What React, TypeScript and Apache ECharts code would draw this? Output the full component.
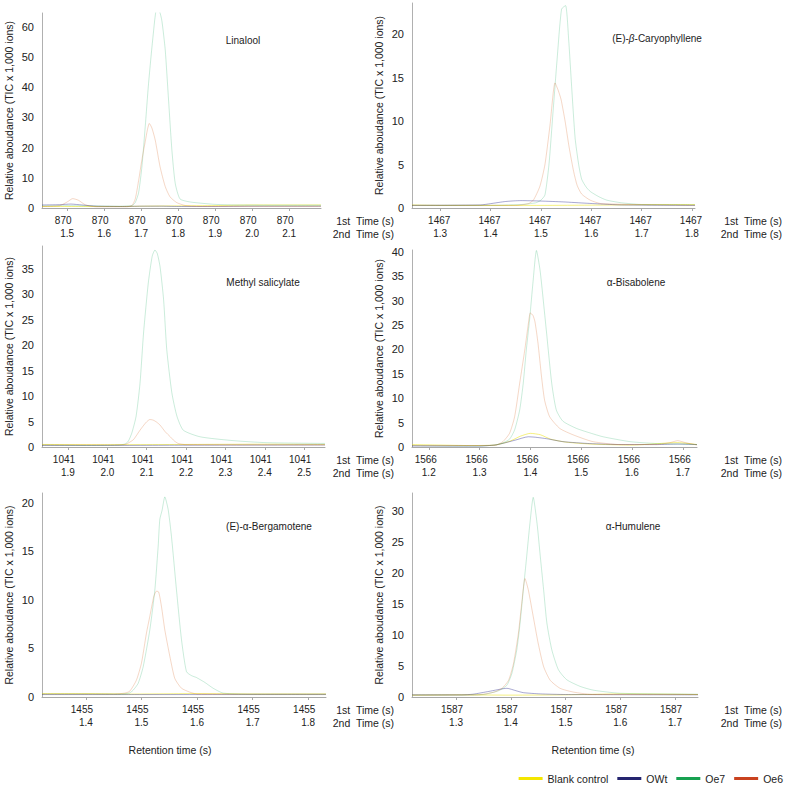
import React, { useEffect, useRef } from "react";
import * as echarts from "echarts";

// ---------- data ----------
const seriesNames = ["Blank control", "OWt", "Oe7", "Oe6"];
const legendColors = ["#f4e600", "#25256f", "#17a150", "#c9421f"];
const lineColors = ["rgba(235,225,0,0.5)", "rgba(40,40,140,0.4)", "rgba(20,170,90,0.22)", "rgba(215,100,30,0.25)"];

const compounds = ["Linalool", "(E)-{i|β}-Caryophyllene", "Methyl salicylate", "α-Bisabolene", "(E)-α-Bergamotene", "α-Humulene"];
const firstTimes = ["870", "1467", "1041", "1566", "1455", "1587"];

const ticks1 = [1.5, 1.6, 1.7, 1.8, 1.9, 2.0, 2.1];
const ticks2 = [1.3, 1.4, 1.5, 1.6, 1.7, 1.8];
const ticks3 = [1.9, 2.0, 2.1, 2.2, 2.3, 2.4, 2.5];
const ticks4 = [1.2, 1.3, 1.4, 1.5, 1.6, 1.7];
const ticks5 = [1.4, 1.5, 1.6, 1.7, 1.8];
const ticks6 = [1.3, 1.4, 1.5, 1.6, 1.7];

const xRanges = [[1.432, 2.186], [1.244, 1.806], [1.834, 2.553], [1.167, 1.728], [1.321, 1.832], [1.2196, 1.742]];
const yMax = [64.6, 23.6, 39.5, 40.4, 21.0, 32.9];
const yStep = [10, 5, 5, 5, 5, 5];

// Linalool
const blank1 = [[1.432, 0.5], [1.55, 0.5], [1.65, 0.5], [1.70, 0.6], [1.8, 0.7], [1.9, 0.8], [2.0, 1.0], [2.186, 1.0]];
const owt1 = [[1.432, 1.0], [1.48, 1.1], [1.51, 1.3], [1.54, 1.0], [1.58, 0.6], [1.65, 0.5], [1.70, 0.6], [1.75, 0.6], [1.80, 0.5], [1.9, 0.5], [2.0, 0.6], [2.186, 0.6]];
const oe7_1 = [[1.432, 0.7], [1.50, 0.8], [1.56, 0.7], [1.64, 0.6], [1.675, 0.8], [1.684, 1.8], [1.693, 5], [1.702, 13.7], [1.711, 27], [1.720, 41.3], [1.733, 58], [1.742, 66], [1.750, 65], [1.756, 62], [1.765, 52.4], [1.774, 35.8], [1.783, 19.2], [1.792, 8.2], [1.805, 3], [1.832, 2], [1.87, 1.5], [1.90, 1.2], [1.95, 1.0], [2.05, 0.9], [2.186, 0.9]];
const oe6_1 = [[1.432, 0.5], [1.48, 0.8], [1.50, 2], [1.515, 3.1], [1.53, 2.6], [1.55, 1], [1.58, 0.4], [1.66, 0.4], [1.675, 0.8], [1.684, 3], [1.693, 9], [1.702, 16], [1.711, 22], [1.717, 26], [1.722, 28], [1.729, 26.5], [1.738, 22.5], [1.751, 13.7], [1.765, 7.1], [1.778, 3.7], [1.796, 1.8], [1.82, 0.8], [1.86, 0.5], [2.186, 0.5]];

// (E)-beta-Caryophyllene
const blank2 = [[1.244, 0.35], [1.30, 0.3], [1.40, 0.3], [1.50, 0.3], [1.65, 0.35], [1.75, 0.4], [1.806, 0.4]];
const owt2 = [[1.244, 0.3], [1.38, 0.35], [1.40, 0.5], [1.43, 0.75], [1.46, 0.85], [1.50, 0.8], [1.545, 0.7], [1.59, 0.55], [1.624, 0.45], [1.66, 0.35], [1.806, 0.3]];
const oe7_2 = [[1.244, 0.3], [1.40, 0.3], [1.46, 0.4], [1.49, 0.6], [1.500, 0.9], [1.508, 1.5], [1.516, 5], [1.524, 11], [1.532, 17], [1.541, 22.9], [1.549, 23.3], [1.555, 19.5], [1.561, 14], [1.568, 8], [1.575, 5], [1.581, 3.3], [1.59, 2.4], [1.598, 1.9], [1.615, 1.3], [1.631, 0.9], [1.66, 0.6], [1.70, 0.4], [1.806, 0.35]];
const oe6_2 = [[1.244, 0.3], [1.45, 0.3], [1.475, 0.5], [1.485, 0.9], [1.498, 2.5], [1.508, 5], [1.518, 9.5], [1.528, 14.4], [1.534, 13.6], [1.540, 12.5], [1.548, 10], [1.556, 7], [1.565, 4.2], [1.572, 2.6], [1.581, 1.6], [1.598, 0.9], [1.62, 0.5], [1.806, 0.3]];

// Methyl salicylate
const blank3 = [[1.834, 0.5], [2.0, 0.45], [2.2, 0.5], [2.4, 0.55], [2.553, 0.5]];
const owt3 = [[1.834, 0.3], [2.0, 0.3], [2.2, 0.35], [2.553, 0.4]];
const oe7_3 = [[1.834, 0.4], [1.95, 0.3], [2.03, 0.4], [2.045, 0.6], [2.053, 1.1], [2.062, 2.7], [2.073, 6], [2.083, 12.5], [2.092, 22.4], [2.104, 32.2], [2.114, 37.5], [2.121, 38.7], [2.127, 38], [2.134, 35.4], [2.143, 28.9], [2.151, 19.1], [2.164, 10.6], [2.177, 6], [2.193, 3.3], [2.236, 2.0], [2.32, 1.25], [2.405, 0.85], [2.553, 0.7]];
const oe6_3 = [[1.834, 0.4], [2.0, 0.4], [2.045, 0.5], [2.058, 1.0], [2.067, 1.5], [2.083, 3.3], [2.098, 4.8], [2.108, 5.4], [2.116, 5.3], [2.125, 4.9], [2.134, 4.3], [2.147, 3.0], [2.160, 2.0], [2.170, 1.2], [2.18, 0.7], [2.20, 0.45], [2.553, 0.4]];

// alpha-Bisabolene
const blank4 = [[1.167, 0.5], [1.22, 0.4], [1.28, 0.3], [1.33, 0.4], [1.36, 1.2], [1.38, 2.2], [1.40, 2.8], [1.42, 2.5], [1.44, 1.6], [1.47, 1.0], [1.52, 0.6], [1.6, 0.4], [1.69, 0.9], [1.728, 0.5]];
const owt4 = [[1.167, 0.2], [1.30, 0.2], [1.33, 0.4], [1.346, 0.75], [1.37, 1.4], [1.396, 2.1], [1.41, 2.0], [1.432, 1.7], [1.464, 1.1], [1.517, 0.7], [1.58, 0.5], [1.65, 0.5], [1.69, 0.6], [1.728, 0.5]];
const oe7_4 = [[1.167, 0.3], [1.25, 0.2], [1.30, 0.2], [1.33, 0.4], [1.345, 0.8], [1.359, 1.6], [1.369, 3.5], [1.379, 7.6], [1.386, 13.1], [1.392, 19.9], [1.399, 26.7], [1.405, 33.6], [1.412, 40.3], [1.419, 36.3], [1.425, 30.5], [1.432, 23.3], [1.442, 13.1], [1.451, 7.6], [1.464, 5.3], [1.491, 3.8], [1.52, 2.8], [1.543, 2.1], [1.596, 1.1], [1.65, 0.7], [1.70, 0.6], [1.728, 0.5]];
const oe6_4 = [[1.167, 0.3], [1.30, 0.3], [1.333, 0.4], [1.346, 1.1], [1.359, 2.8], [1.369, 6.2], [1.379, 13.1], [1.389, 19.9], [1.395, 24.5], [1.400, 27.5], [1.405, 27], [1.409, 25.7], [1.415, 21.3], [1.422, 14.4], [1.428, 9.6], [1.438, 6.2], [1.458, 3.8], [1.484, 2.5], [1.523, 1.1], [1.576, 0.5], [1.65, 0.5], [1.675, 0.9], [1.69, 1.3], [1.705, 0.9], [1.728, 0.4]];

// (E)-alpha-Bergamotene
const blank5 = [[1.321, 0.35], [1.40, 0.35], [1.48, 0.3], [1.60, 0.35], [1.70, 0.3], [1.832, 0.3]];
const owt5 = [[1.321, 0.25], [1.5, 0.25], [1.65, 0.25], [1.832, 0.25]];
const oe7_5 = [[1.321, 0.3], [1.40, 0.3], [1.46, 0.3], [1.478, 0.4], [1.485, 0.7], [1.494, 1.4], [1.503, 3.1], [1.515, 6.9], [1.524, 11.0], [1.530, 15.5], [1.533, 18.3], [1.537, 19.2], [1.542, 20.6], [1.548, 19.3], [1.554, 16.5], [1.563, 11.0], [1.572, 5.9], [1.581, 2.6], [1.590, 2.2], [1.599, 2.0], [1.614, 1.5], [1.629, 0.9], [1.647, 0.4], [1.70, 0.3], [1.832, 0.3]];
const oe6_5 = [[1.321, 0.3], [1.45, 0.3], [1.470, 0.4], [1.479, 0.6], [1.491, 1.75], [1.500, 3.5], [1.509, 6.6], [1.515, 8.3], [1.522, 10.3], [1.527, 10.9], [1.531, 10.8], [1.536, 9.3], [1.542, 6.9], [1.551, 4.2], [1.560, 1.9], [1.572, 0.9], [1.587, 0.5], [1.60, 0.3], [1.832, 0.3]];

// alpha-Humulene
const blank6 = [[1.22, 0.3], [1.30, 0.35], [1.40, 0.3], [1.50, 0.35], [1.60, 0.5], [1.70, 0.45], [1.742, 0.4]];
const owt6 = [[1.22, 0.35], [1.31, 0.35], [1.331, 0.45], [1.36, 0.9], [1.393, 1.4], [1.41, 1.0], [1.423, 0.7], [1.454, 0.5], [1.5, 0.4], [1.742, 0.35]];
const oe7_6 = [[1.22, 0.3], [1.30, 0.3], [1.35, 0.4], [1.370, 0.8], [1.380, 1.1], [1.393, 1.9], [1.402, 3.8], [1.411, 7.6], [1.417, 11.9], [1.423, 17.3], [1.429, 22.6], [1.435, 28.0], [1.441, 32.2], [1.448, 28.0], [1.454, 22.6], [1.460, 17.3], [1.466, 11.9], [1.475, 7.6], [1.487, 4.4], [1.502, 2.8], [1.527, 1.7], [1.551, 1.1], [1.60, 0.6], [1.742, 0.45]];
const oe6_6 = [[1.22, 0.3], [1.34, 0.35], [1.37, 0.8], [1.384, 1.4], [1.396, 2.7], [1.405, 5.4], [1.414, 10.3], [1.420, 15.1], [1.426, 19.1], [1.432, 17.3], [1.441, 13.0], [1.450, 8.7], [1.460, 4.9], [1.472, 2.7], [1.490, 1.4], [1.514, 0.8], [1.55, 0.4], [1.742, 0.4]];

const panelTicks = [ticks1, ticks2, ticks3, ticks4, ticks5, ticks6];
const panelSeries = [
  [blank1, owt1, oe7_1, oe6_1],
  [blank2, owt2, oe7_2, oe6_2],
  [blank3, owt3, oe7_3, oe6_3],
  [blank4, owt4, oe7_4, oe6_4],
  [blank5, owt5, oe7_5, oe6_5],
  [blank6, owt6, oe7_6, oe6_6],
];

// ---------- layout ----------
const grids = [
  { left: 42, top: 13, width: 279, height: 195 },
  { left: 412, top: 3, width: 283, height: 205 },
  { left: 42, top: 246, width: 283, height: 201 },
  { left: 412, top: 250, width: 285, height: 197 },
  { left: 42, top: 493, width: 284, height: 204 },
  { left: 412, top: 493, width: 286, height: 204 },
];
const rowShift = [4, 1, 4, 3, 4, 4];
const namePos = [[243, 40], [657, 38], [263, 282], [636, 282], [269, 526], [633, 526]];

const FONT = "'Liberation Sans', Arial, sans-serif";
const TXT = "#222";

export default function App() {
  const ref = useRef<HTMLDivElement>(null);
  useEffect(() => {
    if (!ref.current) return;
    const chart = echarts.init(ref.current, undefined, { renderer: "svg" });

    const xAxis: any[] = [];
    const yAxis: any[] = [];
    const series: any[] = [];
    const graphic: any[] = [];

    grids.forEach((g, i) => {
      const first = firstTimes[i];
      xAxis.push({
        type: "value",
        gridIndex: i,
        min: xRanges[i][0],
        max: xRanges[i][1],
        splitLine: { show: false },
        axisLine: { lineStyle: { color: "#a8a8a8", width: 1 } },
        axisTick: { show: true, length: 3, customValues: panelTicks[i], lineStyle: { color: "#a8a8a8" } },
        axisLabel: {
          customValues: panelTicks[i],
          showMinLabel: true,
          showMaxLabel: true,
          hideOverlap: false,
          margin: 6,
          color: TXT,
          fontSize: 10,
          fontFamily: FONT,
          formatter: (v: number) => `{a|${first}}\n{b|${v.toFixed(1)}}`,
          rich: {
            a: { fontSize: 10, lineHeight: 13, color: TXT, fontFamily: FONT, padding: [0, rowShift[i] * 2, 0, 0] },
            b: { fontSize: 10, lineHeight: 13, color: TXT, fontFamily: FONT },
          },
        },
      });
      const step = yStep[i];
      yAxis.push({
        type: "value",
        gridIndex: i,
        min: 0,
        max: yMax[i],
        interval: step,
        splitLine: { show: false },
        axisLine: { show: true, lineStyle: { color: "#b0b0b0", width: 1 } },
        axisTick: { show: false },
        axisLabel: {
          margin: 8,
          color: TXT,
          fontSize: 11,
          fontFamily: FONT,
          formatter: (v: number) => (Math.abs(v / step - Math.round(v / step)) < 1e-6 ? String(v) : ""),
        },
        name: "Relative aboudance (TIC x 1,000 ions)",
        nameLocation: "middle",
        nameGap: 28,
        nameTextStyle: { fontSize: 10.5, color: TXT, fontFamily: FONT },
      });
      panelSeries[i].forEach((d, k) => {
        series.push({
          type: "line",
          name: seriesNames[k],
          xAxisIndex: i,
          yAxisIndex: i,
          data: d,
          showSymbol: false,
          smooth: 0.2,
          itemStyle: { color: legendColors[k] },
          lineStyle: { color: lineColors[k], width: 1 },
          emphasis: { disabled: true },
        });
      });

      graphic.push({
        type: "text",
        x: namePos[i][0],
        y: namePos[i][1],
        style: {
          text: compounds[i],
          fill: TXT,
          font: `10px ${FONT}`,
          align: "center",
          verticalAlign: "middle",
          rich: { i: { fontStyle: "italic", fontSize: 10, fontFamily: FONT, fill: TXT } },
        },
      });
      const rightEdge = g.left < 200 ? 394 : 782;
      const base = g.top + g.height;
      graphic.push({
        type: "text",
        x: rightEdge,
        y: base + 13,
        style: { text: "1st  Time (s)", fill: TXT, font: `10.5px ${FONT}`, align: "right", verticalAlign: "middle" },
      });
      graphic.push({
        type: "text",
        x: rightEdge,
        y: base + 26,
        style: { text: "2nd  Time (s)", fill: TXT, font: `10.5px ${FONT}`, align: "right", verticalAlign: "middle" },
      });
    });

    graphic.push({
      type: "text",
      x: 170,
      y: 750,
      style: { text: "Retention time (s)", fill: TXT, font: `10.5px ${FONT}`, align: "center", verticalAlign: "middle" },
    });
    graphic.push({
      type: "text",
      x: 593,
      y: 750,
      style: { text: "Retention time (s)", fill: TXT, font: `10.5px ${FONT}`, align: "center", verticalAlign: "middle" },
    });

    chart.setOption({
      animation: false,
      backgroundColor: "#ffffff",
      textStyle: { fontFamily: FONT },
      grid: grids.map((g) => ({ ...g, containLabel: false })),
      xAxis,
      yAxis,
      series,
      graphic,
      legend: {
        right: 4,
        top: 773,
        padding: 0,
        icon: "rect",
        itemWidth: 24,
        itemHeight: 3,
        itemGap: 9,
        textStyle: { fontSize: 10.5, color: TXT, fontFamily: FONT },
        data: seriesNames.map((n, k) => ({ name: n, itemStyle: { color: legendColors[k] } })),
      },
    });
    return () => chart.dispose();
  }, []);

  return <div ref={ref} style={{ position: "absolute", left: 0, top: 0, width: 787, height: 787 }} />;
}
